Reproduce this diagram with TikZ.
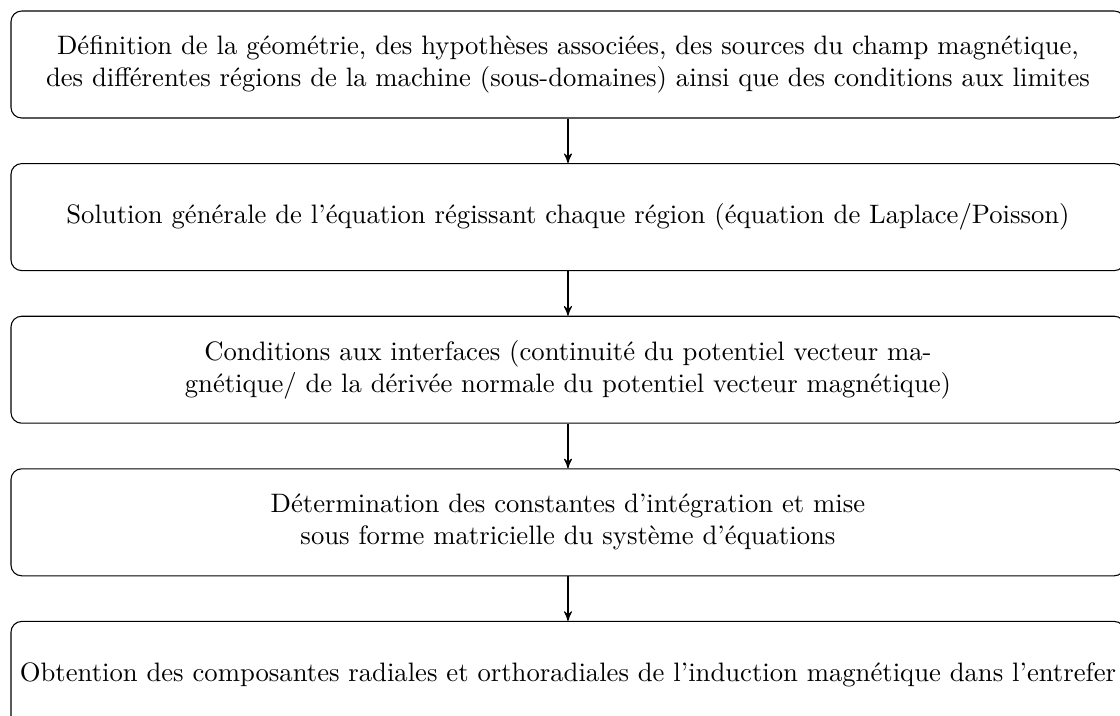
\documentclass[tikz,border=0pt]{standalone}
\usepackage{tikz}
\usetikzlibrary{arrows,positioning}
\tikzset{
  etape/.style = {rectangle, draw=black, rounded corners, align=center,
    inner sep=0pt, minimum width=14.68cm, minimum height=1.41cm},% box of one step
  lien/.style = {->, >=stealth'}% arrow between steps
}

\begin{document}
\begin{tikzpicture}[node distance=0.587cm]
\useasboundingbox (0,0) rectangle (14.76,-9.43);
\node [etape] (geom) at (7.485,-0.85) {D\'efinition de la g\'eom\'etrie, des hypoth\`eses associ\'ees, des sources du champ magn\'etique,\\
  des diff\'erentes r\'egions de la machine (sous-domaines) ainsi que des conditions aux limites};
\node [etape, below=of geom] (sol) {Solution g\'en\'erale de l'\'equation r\'egissant chaque r\'egion (\'equation de Laplace/Poisson)};
\node [etape, below=of sol] (cond) {Conditions aux interfaces (continuit\'e du potentiel vecteur ma-\\
  gn\'etique/ de la d\'eriv\'ee normale du potentiel vecteur magn\'etique)};
\node [etape, below=of cond] (cst) {D\'etermination des constantes d'int\'egration et mise\\
  sous forme matricielle du syst\`eme d'\'equations};
\node [etape, below=of cst] (ind) {Obtention des composantes radiales et orthoradiales de l'induction magn\'etique dans l'entrefer};

\draw [lien] (geom) -- (sol);
\draw [lien] (sol) -- (cond);
\draw [lien] (cond) -- (cst);
\draw [lien] (cst) -- (ind);
\end{tikzpicture}
\end{document}
